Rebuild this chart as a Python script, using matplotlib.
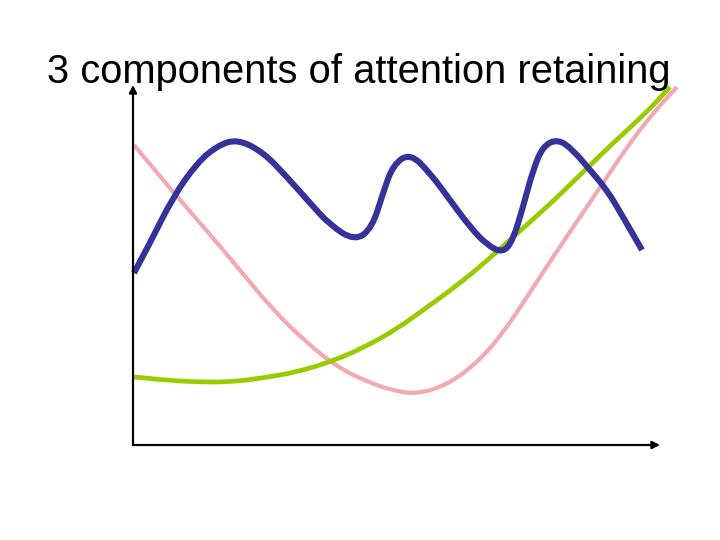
import matplotlib
matplotlib.use("Agg")
import matplotlib.pyplot as plt
from matplotlib.path import Path
from matplotlib.patches import PathPatch

# Título
TITLE = "3 components of attention retaining"

# Curvas (unidades arbitrarias, origen en el cruce de ejes)
blue_x = [0.1, 1.7, 4.0, 6.4, 8.4, 10.4, 13.0, 15.4, 17.7, 19.7, 22.2, 23.9, 25.0, 26.0, 27.7,
          29.7, 31.7, 33.7, 35.4, 37.0, 38.0, 39.0, 40.0, 41.0, 42.5, 44.0, 45.7, 47.4, 49.0, 50.9]
blue_y = [17.2, 20.2, 24.8, 28.2, 29.9, 30.6, 29.3, 26.8, 24.2, 22.0, 20.4, 21.7, 25.2, 28.0, 29.2,
          27.2, 24.5, 21.8, 20.0, 19.2, 20.5, 23.8, 27.5, 29.9, 30.6, 29.5, 27.5, 25.5, 22.8, 19.5]

pink_x = [0.1, 4.0, 7.4, 10.7, 14.0, 17.4, 20.4, 23.7, 26.2, 28.4, 31.4, 34.4, 37.0, 39.4,
          42.0, 44.7, 47.0, 49.4, 52.0, 54.4]
pink_y = [30.0, 25.3, 21.4, 17.5, 13.5, 10.2, 7.8, 6.2, 5.4, 5.1, 6.0, 8.2, 11.2, 14.8,
          18.8, 22.8, 26.2, 29.8, 33.2, 35.8]

green_x = [0.1, 3.0, 6.4, 9.7, 13.0, 16.4, 19.7, 23.0, 26.4, 29.7, 31.4, 34.7, 38.0, 41.4,
           44.7, 48.0, 51.4, 53.7]
green_y = [6.8, 6.5, 6.3, 6.3, 6.7, 7.3, 8.3, 9.7, 11.6, 14.0, 15.2, 17.8, 20.8, 23.8,
           27.0, 30.2, 33.3, 35.8]

# Longitud de los ejes con flecha
x_axis_end = 52.7
y_axis_end = 36.0


def smooth_path(xs, ys):
    # curva de Bezier cuadrática: los puntos hacen de control, pasa por los puntos medios
    pts = list(zip(xs, ys))
    verts = [pts[0]]
    codes = [Path.MOVETO]
    for i in range(1, len(pts) - 1):
        mid = ((pts[i][0] + pts[i + 1][0]) / 2, (pts[i][1] + pts[i + 1][1]) / 2)
        verts += [pts[i], mid]
        codes += [Path.CURVE3, Path.CURVE3]
    verts.append(pts[-1])
    codes.append(Path.LINETO)
    return Path(verts, codes)


fig = plt.figure(figsize=(7.2, 5.4), dpi=100)
ax = fig.add_axes([0, 0, 1, 1])
ax.set_xlim(-13.3, 58.7)
ax.set_ylim(-9.5, 44.5)
ax.axis("off")

# Ejes con flecha
arrow = dict(arrowstyle="-|>", lw=1.6, color="black", mutation_scale=11, shrinkA=0, shrinkB=0)
ax.annotate("", xy=(x_axis_end, 0), xytext=(0, 0), arrowprops=arrow)
ax.annotate("", xy=(0, y_axis_end), xytext=(0, 0), arrowprops=arrow)

for xs, ys, col, lw in [(pink_x, pink_y, "#f2a9b1", 3.0),
                        (green_x, green_y, "#99cc00", 3.4),
                        (blue_x, blue_y, "#333399", 4.4)]:
    ax.add_patch(PathPatch(smooth_path(xs, ys), facecolor="none", edgecolor=col, lw=lw,
                           joinstyle="round", capstyle="butt"))

fig.text(359 / 720, 1 - 83 / 540, TITLE, ha="center", va="baseline",
         fontsize=28.7, family="Liberation Sans", color="black")

fig.savefig("out.png", dpi=100)
